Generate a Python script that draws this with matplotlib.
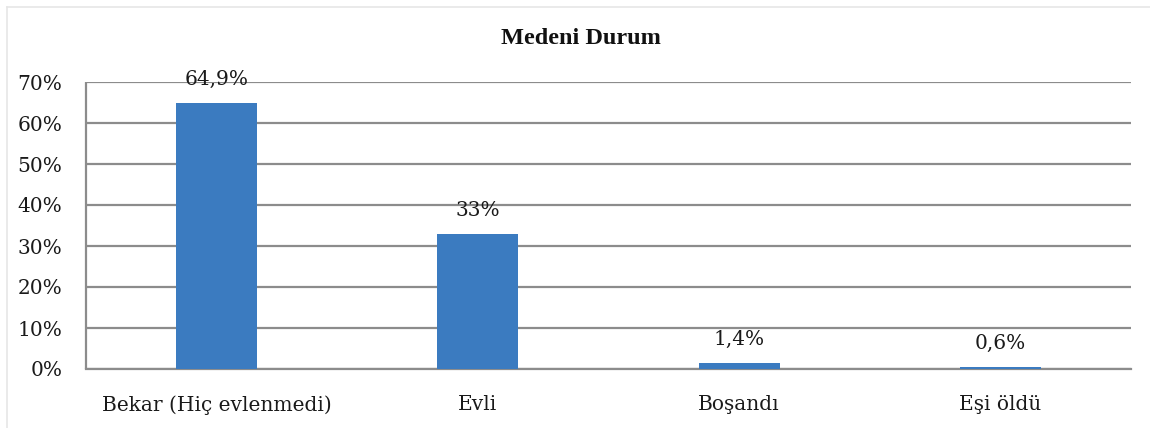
import matplotlib
matplotlib.use('Agg')
import matplotlib.pyplot as plt
from matplotlib.lines import Line2D

categories = ['Bekar (Hiç evlenmedi)', 'Evli', 'Boşandı', 'Eşi öldü']
values = [64.9, 33, 1.4, 0.6]
value_labels = ['64,9%', '33%', '1,4%', '0,6%']
yticks = [0, 10, 20, 30, 40, 50, 60, 70]

plt.rcParams['font.family'] = ['DejaVu Serif']

fig = plt.figure(figsize=(11.5, 4.28), dpi=100)
# light frame: only top and left edges show in the crop
fig.lines.append(Line2D([6.5 / 1150, 1], [1 - 6.5 / 428, 1 - 6.5 / 428],
                        transform=fig.transFigure, color='#e6e6e6', linewidth=1.2))
fig.lines.append(Line2D([6.5 / 1150, 6.5 / 1150], [0, 1 - 6.5 / 428],
                        transform=fig.transFigure, color='#e6e6e6', linewidth=1.2))

ax = fig.add_axes([86 / 1150, 1 - 369 / 428, (1131 - 86) / 1150, (369 - 82) / 428])
x = list(range(len(categories)))
ax.bar(x, values, width=0.31, color='#3b7bc0', zorder=3)
for xi, v, lab in zip(x, values, value_labels):
    ax.annotate(lab, (xi, v), xytext=(0, 17), textcoords='offset points',
                ha='center', va='center', fontsize=14.5, color='#1a1a1a', zorder=4)

ax.set_xlim(-0.5, len(categories) - 0.5)
ax.set_ylim(0, 70)
ax.set_yticks(yticks)
ax.set_yticklabels([f'{t}%' for t in yticks])
ax.set_xticks(x)
ax.set_xticklabels(categories)
ax.tick_params(axis='both', length=0, labelsize=14.5, colors='#1a1a1a')
ax.tick_params(axis='x', pad=19)
ax.tick_params(axis='y', pad=17)
ax.grid(axis='y', color='#8c8c8c', linewidth=1.6, zorder=0)
for s in ['top', 'right']:
    ax.spines[s].set_visible(False)
ax.spines['left'].set_color('#8c8c8c')
ax.spines['left'].set_linewidth(1.6)
ax.spines['left'].set_capstyle('butt')
ax.spines['bottom'].set_color('#8c8c8c')
ax.spines['bottom'].set_linewidth(1.6)

fig.text(581 / 1150, 1 - 39 / 428, 'Medeni Durum', ha='center', va='center',
         fontsize=17.5, fontweight='bold', color='#111111',
         family=['Liberation Serif', 'DejaVu Serif'])

fig.savefig('out.png', dpi=100)
